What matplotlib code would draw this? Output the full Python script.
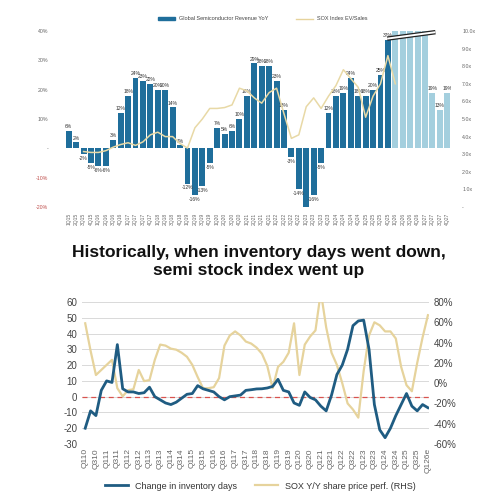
import numpy as np
import matplotlib.pyplot as plt
from matplotlib.lines import Line2D
from matplotlib.patches import Patch

plt.rcParams['font.family'] = ['Liberation Sans', 'DejaVu Sans']
plt.rcParams['axes.unicode_minus'] = False

# ---- top chart data ----
top_quarters = [f"{q}Q{y}" for y in range(15, 28) for q in range(1, 5)]
rev_yoy = [6, 2, -2, -5, -6, -6, 3, 12, 18, 24, 23, 22, 20, 20, 14, 1,
           -12, -16, -13, -5, 7, 5, 6, 10, 18, 29, 28, 28, 23, 13, -3, -14,
           -20, -16, -5, 12, 18, 19, 24, 18, 18, 20, 25, 37,
           40, 40, 40, 40, 40, 19, 13, 19]
forecast_start = 44
sox_ev_x = list(range(2, 45))
sox_ev = [3.15, 3.1, 3.1, 3.2, 3.4, 3.55, 3.65, 3.5, 3.7, 4.1, 4.25, 4.0,
          4.0, 3.6, 3.35, 4.5, 5.0, 5.6, 5.6, 5.65, 5.8, 6.75, 6.6, 6.2,
          5.9, 6.5, 6.75, 5.3, 3.9, 4.1, 5.7, 6.2, 5.6, 6.3, 6.9, 7.8,
          7.3, 6.8, 5.1, 6.3, 7.0, 8.6, 7.0]
break_x = [42.9, 49.4]
break_y = [37.4, 39.6]

# ---- bottom chart data ----
bottom_labels = [f"Q{h}{y}" for y in range(10, 26) for h in (1, 3)] + ["Q126e"]
inv_days = [-20, -9, -12, 4, 10, 9, 33, 5, 3, 3, 2, 2.5, 6, 0, -2, -4,
            -5, -3.5, -1, 1.5, 2, 7, 5, 4, 3, 0, -2, 0, 0.5, 1, 4, 4.4,
            4.9, 5, 5.5, 6.5, 11, 4, 3, -4, -5.5, 3, -0.5, -2, -6, -9,
            1, 14, 20, 30, 45, 48, 48.5, 30, -5, -21, -26, -20, -12, -5,
            2, -6, -9, -5, -7]
sox_yoy = [59, 32, 8, 13, 18, 23, -5, -13, -7, -6, 13, 2, 3, 23, 38, 37,
           34, 33, 30, 26, 18, 6, -5, -5, -4, 5, 37, 47, 51, 47, 41, 39,
           35, 29, 17, -5, 16, 21, 30, 59, 8, 38, 46, 52, 90, 55, 30, 18,
           0, -20, -26, -34, 12, 47, 60, 57, 51, 51, 44, 16, -2, -8, 20, 45,
           67]

dark_blue = "#1f6e9b"
light_blue = "#a4cfde"
tan = "#e6d39c"
grey = "#666666"

fig = plt.figure(figsize=(4.96, 4.95), dpi=100)

# ================= top chart =================
ax1 = fig.add_axes([65/496, 1-207/495, 386/496, 176/495])
xs = np.arange(len(rev_yoy))
colors = [dark_blue if i < forecast_start else light_blue for i in xs]
ax1.bar(xs, rev_yoy, width=0.8, color=colors, zorder=2)
for i, v in enumerate(rev_yoy):
    if i >= forecast_start and i < forecast_start + 5:
        continue
    off = 0.6 if v >= 0 else -0.6
    ax1.text(i, v + off, f"{v}%", ha='center', va='bottom' if v >= 0 else 'top',
             fontsize=3.6, color="#333333", clip_on=True)
ax1.set_xlim(-0.5, len(rev_yoy) - 0.5)
ax1.set_ylim(-20, 40)
ax1.set_yticks([40, 30, 20, 10, 0, -10, -20])
ax1.set_yticklabels(["40%", "30%", "20%", "10%", "-", "-10%", "-20%"])
for lab, t in zip(ax1.get_yticklabels(), [40, 30, 20, 10, 0, -10, -20]):
    lab.set_color("#c0504d" if t < 0 else grey)
ax1.set_xticks(xs)
ax1.set_xticklabels(top_quarters, rotation=90, fontsize=3.6, color=grey)
ax1.tick_params(axis='y', labelsize=3.8, length=0, pad=12)
ax1.tick_params(axis='x', length=0, pad=4)
for s in ax1.spines.values():
    s.set_visible(False)
ax1.plot(break_x, break_y, color="#222222", lw=3.2, solid_capstyle='butt',
         clip_on=False, zorder=5)
ax1.plot(break_x, break_y, color="white", lw=1.4, solid_capstyle='butt',
         clip_on=False, zorder=6)

ax1r = ax1.twinx()
ax1r.plot(sox_ev_x, sox_ev, color="#e8d9a6", lw=1.1, zorder=3)
ax1r.set_ylim(0, 10)
ax1r.set_yticks(range(0, 11))
ax1r.set_yticklabels(["-"] + [f"{v:.1f}x" for v in range(1, 11)])
ax1r.tick_params(axis='y', labelsize=3.8, length=0, pad=8, colors=grey)
for s in ax1r.spines.values():
    s.set_visible(False)

fig.legend(handles=[Patch(color=dark_blue), Line2D([], [], color=tan, lw=1)],
           labels=["Global Semiconductor Revenue YoY", "SOX Index EV/Sales"],
           loc='center', bbox_to_anchor=(0.53, 0.962), ncol=2, fontsize=4,
           frameon=False, handlelength=3, handleheight=0.5, columnspacing=5,
           labelcolor="#444444")

# ================= title =================
fig.text(259/496, 1-262/495, "Historically, when inventory days went down,\nsemi stock index went up",
         ha='center', va='center', fontsize=12.5, fontweight='bold',
         linespacing=1.25, color="#111111")

# ================= bottom chart =================
ax2 = fig.add_axes([82/496, 1-444/495, 347/496, 142/495])
qx = np.arange(len(inv_days))
ax2.set_xlim(-0.6, 64.2)
ax2.set_ylim(-30, 60)
ax2.set_yticks(range(-30, 61, 10))
ax2.grid(axis='y', color="#d9d9d9", lw=0.7)
ax2.set_axisbelow(True)
ax2.axhline(0, color="#d9534f", lw=0.9, ls=(0, (4, 3)), zorder=1)
ax2.set_xticks(np.arange(0, len(inv_days), 2))
ax2.set_xticklabels(bottom_labels, rotation=90, fontsize=6, color="#666666")
ax2.tick_params(axis='y', labelsize=7, length=0, colors="#444444")
ax2.tick_params(axis='x', length=0, pad=3)
for s in ax2.spines.values():
    s.set_visible(False)

ax2r = ax2.twinx()
ax2r.plot(qx, sox_yoy, color=tan, lw=1.6, zorder=2)
ax2r.set_ylim(-60, 80)
ax2r.set_yticks(range(-60, 81, 20))
ax2r.set_yticklabels([f"{v}%" for v in range(-60, 81, 20)])
ax2r.tick_params(axis='y', labelsize=7, length=0, colors="#444444")
for s in ax2r.spines.values():
    s.set_visible(False)

ax3 = ax2.twinx()
ax3.set_ylim(-30, 60)
ax3.axis('off')
ax3.plot(qx, inv_days, color="#1f5c82", lw=2.0, zorder=3)

fig.legend(handles=[Line2D([], [], color="#1f5c82", lw=2),
                    Line2D([], [], color=tan, lw=1.6)],
           labels=["Change in inventory days", "SOX Y/Y share price perf. (RHS)"],
           loc='center', bbox_to_anchor=(0.525, 0.018), ncol=2, fontsize=6.5,
           frameon=False, handlelength=2.5, columnspacing=2, labelcolor="#333333")

fig.savefig("out.png", dpi=100)
